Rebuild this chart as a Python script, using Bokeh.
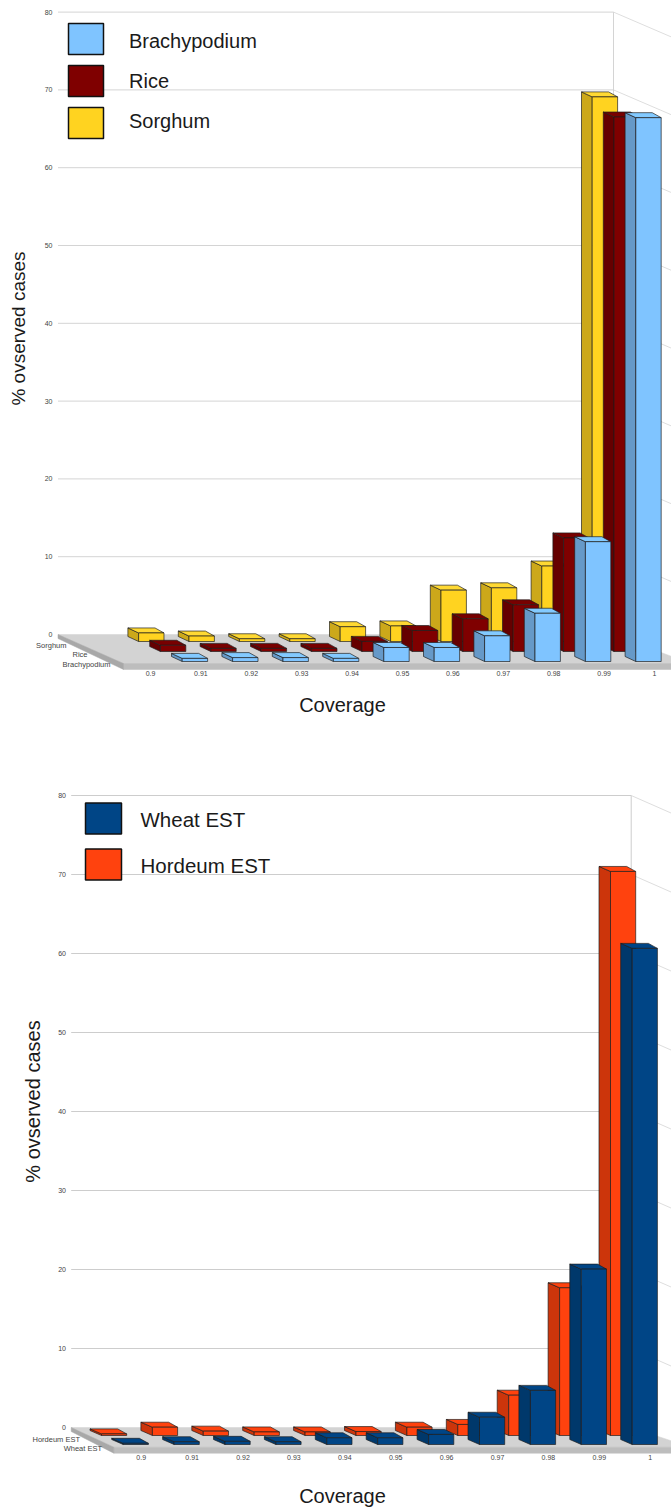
import math

from bokeh.core.properties import value
from bokeh.embed import file_html
from bokeh.layouts import column
from bokeh.models import Range1d
from bokeh.plotting import figure
from bokeh.resources import INLINE

# Coverage categories shared by both panels
COVERAGE = ["0.9", "0.91", "0.92", "0.93", "0.94", "0.95", "0.96", "0.97", "0.98", "0.99", "1"]
TICKS = [0, 10, 20, 30, 40, 50, 60, 70, 80]

# Percent of observed cases per coverage level (a zero draws no bar)
BRACHYPODIUM = [0, 0.4, 0.5, 0.5, 0.4, 1.8, 1.8, 3.3, 6.2, 15.4, 69.9]
RICE = [0, 0.8, 0.4, 0.4, 0.4, 1.3, 2.7, 4.2, 6.0, 14.6, 68.7]
SORGHUM = [0, 1.1, 0.7, 0.35, 0.35, 1.9, 2.0, 6.6, 6.9, 9.7, 70.0]

WHEAT_EST = [0.15, 0.35, 0.4, 0.35, 0.85, 0.85, 1.27, 3.45, 6.85, 22.2, 62.8]
HORDEUM_EST = [0.2, 1.05, 0.55, 0.45, 0.45, 0.5, 1.05, 1.4, 5.1, 18.7, 71.4]

FONT = value("Liberation Sans")
EDGE = "#1c1c1c"


def text(p, x, y, s, size, color="#1a1a1a", align="left", angle=0.0):
    p.text([x], [y], text=[s], text_font=FONT, text_font_size=size, text_color=color,
           text_align=align, text_baseline="middle", angle=angle)


def panel(height, offset, geom, series, legend_rows):
    """Draw one pseudo-3D bar chart; rows are listed from the front one backwards."""
    x0, step = geom["x0"], geom["step"]
    y0, unit = geom["y0"], geom["unit"]

    def X(px):
        return (px - x0) / step

    def Y(py):
        return (y0 - py) / unit

    p = figure(width=671, height=height, output_backend="svg", toolbar_location=None,
               x_range=Range1d(X(0), X(671)), y_range=Range1d(Y(offset + height), Y(offset)),
               min_border=0, outline_line_color=None, background_fill_color="white")
    p.axis.visible = False
    p.grid.visible = False

    # Back wall and right wall
    left, right = geom["wall_left"], geom["wall_right"]
    grid_color = geom["grid"]
    for tick in TICKS[1:]:
        p.line([X(left), X(right)], [tick, tick], line_color=grid_color, line_width=1)
        p.line([X(right), X(680)], [tick, tick - (680 - right) * geom["wall_slope"] / unit],
               line_color="#dedede", line_width=1)
    p.line([X(right), X(right)], [0, TICKS[-1]], line_color=grid_color, line_width=1)

    # Floor slab
    fx, fy, thick = geom["floor_x"], geom["floor_y"], geom["floor_thick"]
    fr = 690
    p.patch([X(v) for v in [left, right, fr, fx]], [Y(v) for v in [y0, y0, fy, fy]],
            fill_color="#d3d3d3", line_color="#d3d3d3", line_width=0.5)
    p.patch([X(v) for v in [fx, fr, fr, fx]], [Y(v) for v in [fy, fy, fy + thick, fy + thick]],
            fill_color="#bdbdbd", line_color="#bdbdbd", line_width=0.5)
    p.patch([X(v) for v in [left, fx, fx, left]], [Y(v) for v in [y0, fy, fy + thick, y0 + 4]],
            fill_color="#a8a8a8", line_color="#a8a8a8", line_width=0.5)

    # Bars, back row first so that nearer rows cover it
    w = geom["bar_w"] / step
    d = geom["depth_x"] / step
    d2 = geom["depth_x2"] / step
    h = geom["depth_y"] / unit
    n_rows = len(series)
    for row in range(n_rows - 1, -1, -1):
        _, values, front, side, top = series[row]
        shift = row * geom["row_dx"] / step
        base = Y(geom["base"]) + row * geom["row_dy"] / unit
        fxs, fys, sxs, sys, txs, tys = [], [], [], [], [], []
        for col, v in enumerate(values):
            if v <= 0:
                continue
            a = col - shift
            b = a + w
            t = base + v
            fxs.append([a, b, b, a])
            fys.append([base, base, t, t])
            sxs.append([a - d, a, a, a - d])
            sys.append([base + h, base, t, t + h])
            txs.append([a, b, b - d2, a - d])
            tys.append([t, t, t + h, t + h])
        style = dict(line_color=EDGE, line_width=0.8, line_alpha=0.85)
        p.patches(sxs, sys, fill_color=side, **style)
        p.patches(txs, tys, fill_color=top, **style)
        p.patches(fxs, fys, fill_color=front, **style)

    # Value tick labels
    for tick in TICKS:
        text(p, X(geom["tick_x"]), tick, str(tick), "7px", "#444444", "right")

    # Series names along the floor's left edge
    for (name, *_), (px, py) in zip(series, geom["row_labels"]):
        text(p, X(px), Y(py), name, "7.5px", "#444444", "right")

    # Coverage labels along the front edge
    for i, label in enumerate(COVERAGE):
        text(p, X(geom["label0"]) + i, Y(geom["label_y"]), label, "7px", "#444444", "center")

    # Axis titles
    text(p, X(geom["xtitle"][0]), Y(geom["xtitle"][1]), "Coverage", "20px", "#1a1a1a", "center")
    text(p, X(geom["ytitle"][0]), Y(geom["ytitle"][1]), "% ovserved cases", geom["ytitle_size"],
         "#1a1a1a", "center", math.pi / 2)

    # Legend
    for name, color, sx0, sx1, sy0, sy1, tx, ty, fs in legend_rows:
        p.quad(left=[X(sx0)], right=[X(sx1)], top=[Y(sy0)], bottom=[Y(sy1)],
               fill_color=color, line_color="#111111", line_width=1.5)
        text(p, X(tx), Y(ty), name, fs)
    return p


upper = panel(
    755, 0,
    dict(x0=131.3, step=50.4, y0=634.0, unit=7.78, wall_left=57.5, wall_right=613, wall_slope=0.43,
         grid="#d4d4d4", floor_x=123, floor_y=663, floor_thick=6, bar_w=25.4, depth_x=10.7,
         depth_x2=9, depth_y=5, row_dx=21.8, row_dy=10, base=661, tick_x=52,
         row_labels=[(110, 664), (87, 654), (66, 644.7)], label0=150, label_y=672.7,
         xtitle=(342, 704), ytitle=(18, 328), ytitle_size="19px"),
    [("Brachypodium", BRACHYPODIUM, "#7fc4ff", "#6699c8", "#83caff"),
     ("Rice", RICE, "#7f0000", "#650000", "#780000"),
     ("Sorghum", SORGHUM, "#ffd320", "#cca81a", "#ffd933")],
    [("Brachypodium", "#7fc4ff", 68, 103, 23, 54, 128.5, 40, "20px"),
     ("Rice", "#7f0000", 68, 103, 65, 96, 128.5, 80, "20px"),
     ("Sorghum", "#ffd320", 68, 103, 107, 138, 128.5, 120, "20px")],
)

lower = panel(
    754, 755,
    dict(x0=122.7, step=50.9, y0=1427.0, unit=7.9, wall_left=70.7, wall_right=630.7, wall_slope=0.44,
         grid="#cdcdcd", floor_x=113.3, floor_y=1446.7, floor_thick=6, bar_w=25.2, depth_x=11.5,
         depth_x2=9, depth_y=5, row_dx=21.7, row_dy=9, base=1444, tick_x=65.5,
         row_labels=[(101.5, 1448), (79.5, 1438.7)], label0=140.7, label_y=1457,
         xtitle=(342, 1495), ytitle=(32, 1101), ytitle_size="20px"),
    [("Wheat EST", WHEAT_EST, "#004586", "#00386b", "#004586"),
     ("Hordeum EST", HORDEUM_EST, "#ff420e", "#cc350b", "#ff420e")],
    [("Wheat EST", "#004586", 85, 121, 802.5, 833.5, 140, 819, "20.5px"),
     ("Hordeum EST", "#ff420e", 85, 121, 848.5, 879.5, 140, 865, "20.5px")],
)

page = column(upper, lower, spacing=0)
open("out.html", "w").write(file_html(page, INLINE))
